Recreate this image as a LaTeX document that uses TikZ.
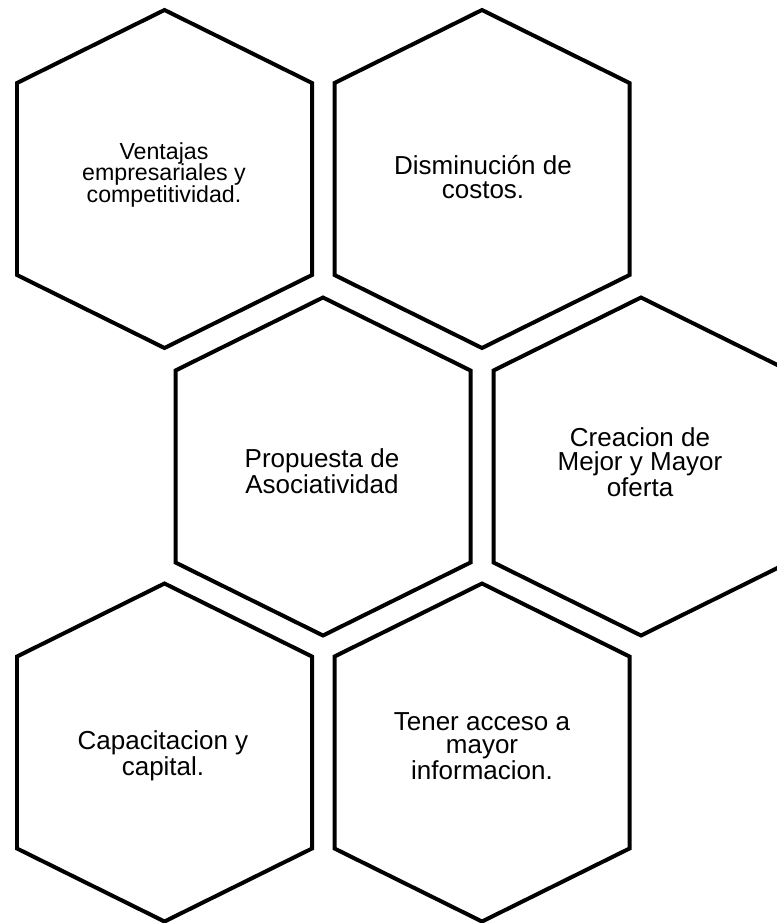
\documentclass[tikz,border=0pt]{standalone}
\usepackage{fontspec}
\setmainfont{Liberation Sans}
\usepackage{tikz}

\begin{document}
\begin{tikzpicture}[x=0.02cm, y=-0.02cm,
    hexline/.style={draw=black, line width=0.08cm},
    hextext/.style={align=center, inner sep=0pt,
      font=\fontsize{14.8}{13.4}\selectfont},
    smalltext/.style={hextext, font=\fontsize{13.2}{12.4}\selectfont}]
    \useasboundingbox (0, 0) rectangle (777, 923);
    \clip (0, 0) rectangle (777, 923);

    % the six cells, given by their centres
    \foreach \cx/\cy in {164.5/179, 482/179, 323/466.5,
                         641/466.5, 164.5/752.5, 482/752.5} {
      \draw[hexline]
        ({\cx}, {\cy-169}) -- ({\cx+147.5}, {\cy-96}) -- ({\cx+147.5}, {\cy+96})
        -- ({\cx}, {\cy+169}) -- ({\cx-147.5}, {\cy+96}) -- ({\cx-147.5}, {\cy-96})
        -- cycle;
    }

    \node[smalltext] (ventajas) at (164, 175)
      {Ventajas\\empresariales y\\competitividad.};
    \node[hextext] (costos) at (483, 177) {Disminución de\\costos.};
    \node[hextext] (propuesta) at (322, 471) {Propuesta de\\Asociatividad};
    \node[hextext] (oferta) at (640, 462) {Creacion de\\Mejor y Mayor\\oferta};
    \node[hextext] (capacitacion) at (163, 756) {Capacitacion y\\capital.};
    \node[hextext] (informacion) at (482, 746)
      {Tener acceso a\\mayor\\informacion.};
  \end{tikzpicture}
\end{document}
